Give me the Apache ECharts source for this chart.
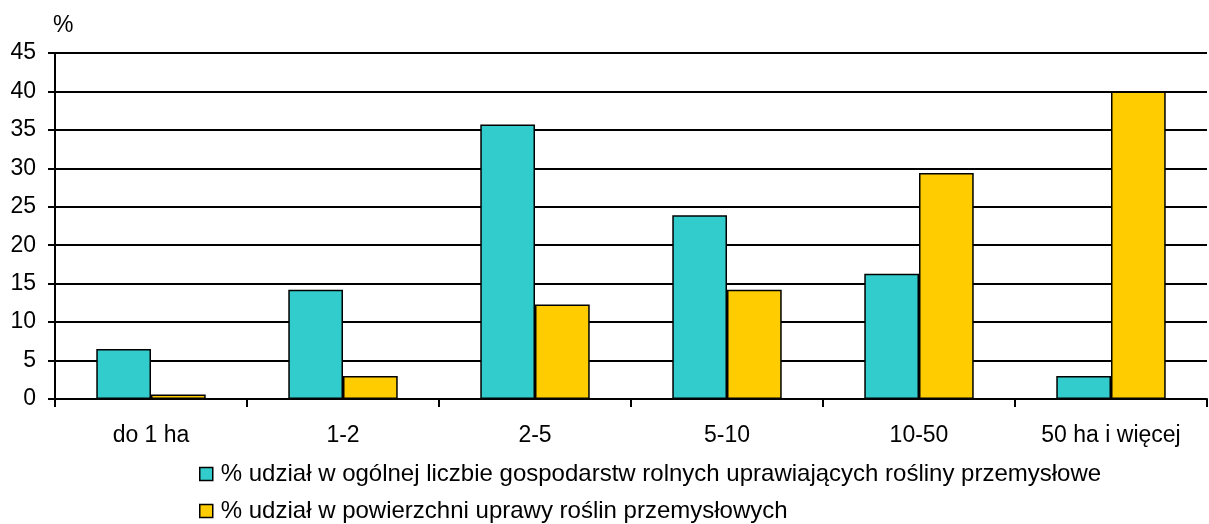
<!DOCTYPE html>
<html><head><meta charset="utf-8">
<script src="https://cdn.jsdelivr.net/npm/echarts@6/dist/echarts.min.js"></script>
<style>html,body{margin:0;padding:0;background:#fff}#c{width:1209px;height:524px}</style>
</head><body><div id="c"></div>
<script>
const categories = ['do 1 ha', '1-2', '2-5', '5-10', '10-50', '50 ha i więcej'];
const seriesNames = [
  '% udział w ogólnej liczbie gospodarstw rolnych uprawiających rośliny przemysłowe',
  '% udział w powierzchni uprawy roślin przemysłowych'
];
const farmsShare = [6.5, 14.2, 35.7, 23.9, 16.3, 3.0];
const areaShare = [0.6, 3.0, 12.3, 14.2, 29.4, 40.0];
const yTicks = [0, 5, 10, 15, 20, 25, 30, 35, 40, 45];

const font = 'Liberation Sans, Arial, sans-serif';
const legendBase = {
  orient: 'horizontal', left: 199, padding: 0,
  itemWidth: 13, itemHeight: 13, icon: 'rect', itemStyle: { borderColor: '#000', borderWidth: 1.5 },
  textStyle: { fontSize: 24, lineHeight: 24, color: '#000', fontFamily: font, padding: [0, 0, 0, 3] }
};
const chart = echarts.init(document.getElementById('c'));
chart.setOption({
  animation: false,
  textStyle: { fontFamily: font, color: '#000' },
  grid: { left: 55, right: 2, top: 53, bottom: 125, containLabel: false },
  legend: [
    Object.assign({}, legendBase, { top: 462, data: [seriesNames[0]] }),
    Object.assign({}, legendBase, { top: 499, data: [seriesNames[1]] })
  ],
  xAxis: {
    type: 'category', data: categories,
    axisLine: { lineStyle: { color: '#000', width: 2 } },
    axisTick: { show: true, length: 8, lineStyle: { color: '#000', width: 2 } },
    axisLabel: { fontSize: 23, color: '#000', margin: 25 }
  },
  yAxis: {
    type: 'value', min: yTicks[0], max: yTicks[yTicks.length - 1], interval: 5,
    name: '%', nameLocation: 'end', nameGap: 27,
    nameTextStyle: { fontSize: 23, color: '#000', align: 'left', verticalAlign: 'middle', padding: [0, 0, 0, -2] },
    axisLine: { show: true, lineStyle: { color: '#000', width: 2 } },
    axisTick: { show: true, length: 7, lineStyle: { color: '#000', width: 2 } },
    axisLabel: { fontSize: 23, color: '#000', margin: 19 },
    splitLine: { lineStyle: { color: '#000', width: 2 } }
  },
  series: [
    { name: seriesNames[0], type: 'bar', data: farmsShare, barGap: '0%', barCategoryGap: '43%',
      itemStyle: { color: '#33CCCC', borderColor: '#000', borderWidth: 1.5 } },
    { name: seriesNames[1], type: 'bar', data: areaShare, barGap: '0%', barCategoryGap: '43%',
      itemStyle: { color: '#FFCC00', borderColor: '#000', borderWidth: 1.5 } }
  ]
});
</script></body></html>
